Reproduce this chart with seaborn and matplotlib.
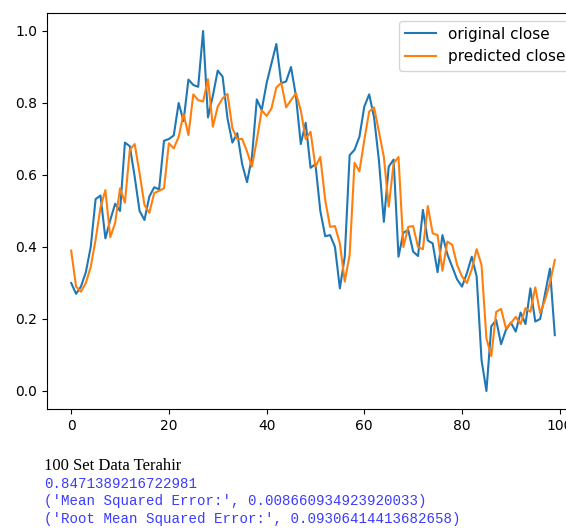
import numpy as np
import pandas as pd
import matplotlib
matplotlib.use("Agg")
import matplotlib.pyplot as plt
import seaborn as sns

original_close = [
    0.30, 0.27, 0.29, 0.33, 0.40, 0.533, 0.543, 0.424, 0.475, 0.52,
    0.50, 0.69, 0.68, 0.595, 0.50, 0.475, 0.54, 0.566, 0.56, 0.695,
    0.70, 0.71, 0.80, 0.75, 0.865, 0.85, 0.845, 1.00, 0.76, 0.82,
    0.89, 0.873, 0.757, 0.69, 0.716, 0.63, 0.58, 0.65, 0.81, 0.78,
    0.855, 0.91, 0.964, 0.855, 0.86, 0.90, 0.82, 0.686, 0.745, 0.62,
    0.63, 0.50, 0.43, 0.433, 0.40, 0.285, 0.373, 0.655, 0.67, 0.706,
    0.79, 0.824, 0.76, 0.64, 0.47, 0.623, 0.643, 0.373, 0.44, 0.447,
    0.387, 0.375, 0.503, 0.418, 0.41, 0.33, 0.433, 0.38, 0.345, 0.31,
    0.29, 0.327, 0.373, 0.318, 0.086, 0.0, 0.18, 0.197, 0.13, 0.17,
    0.19, 0.165, 0.218, 0.186, 0.285, 0.193, 0.20, 0.27, 0.34, 0.155,
]
predicted_close = [
    0.39, 0.29, 0.276, 0.30, 0.345, 0.42, 0.51, 0.558, 0.427, 0.467,
    0.563, 0.523, 0.67, 0.686, 0.605, 0.517, 0.495, 0.55, 0.556, 0.563,
    0.688, 0.674, 0.706, 0.77, 0.711, 0.824, 0.808, 0.804, 0.866, 0.734,
    0.79, 0.813, 0.825, 0.73, 0.70, 0.70, 0.665, 0.623, 0.697, 0.78,
    0.764, 0.785, 0.843, 0.856, 0.788, 0.808, 0.827, 0.78, 0.70, 0.72,
    0.623, 0.65, 0.53, 0.456, 0.458, 0.41, 0.304, 0.378, 0.634, 0.61,
    0.697, 0.776, 0.788, 0.72, 0.65, 0.512, 0.632, 0.65, 0.40, 0.456,
    0.458, 0.40, 0.394, 0.514, 0.438, 0.433, 0.334, 0.415, 0.406, 0.35,
    0.318, 0.30, 0.338, 0.394, 0.35, 0.146, 0.097, 0.22, 0.228, 0.174,
    0.188, 0.206, 0.186, 0.23, 0.22, 0.288, 0.216, 0.253, 0.30, 0.364,
]
series_labels = ["original close", "predicted close"]
caption_title = "100 Set Data Terahir"
output_lines = [
    "0.8471389216722981",
    "('Mean Squared Error:', 0.008660934923920033)",
    "('Root Mean Squared Error:', 0.09306414413682658)",
]

idx = np.arange(len(original_close))
df = pd.DataFrame({
    "index": np.concatenate([idx, idx]),
    "value": original_close + predicted_close,
    "series": [series_labels[0]] * len(idx) + [series_labels[1]] * len(idx),
})

fig = plt.figure(figsize=(5.66, 5.28), dpi=100)
ax = fig.add_axes([47 / 566, 1 - 409 / 528, 532 / 566, 396 / 528])
sns.lineplot(data=df, x="index", y="value", hue="series",
             palette=["#1f77b4", "#ff7f0e"], linewidth=1.5, ax=ax)
ax.set_xlabel("")
ax.set_ylabel("")
ax.set_xticks([0, 20, 40, 60, 80, 100])
ax.set_yticks([0.0, 0.2, 0.4, 0.6, 0.8, 1.0])
ax.tick_params(labelsize=10)
leg = ax.legend(loc="upper right", fontsize=11, frameon=True)
leg.set_title(None)

fig.text(44 / 566, 1 - 466 / 528, caption_title, family="Liberation Serif",
         fontsize=12, va="center", ha="left", color="black")
for k, line in enumerate(output_lines):
    fig.text(44 / 566, 1 - (484 + 17.5 * k) / 528, line, family="Liberation Mono",
             fontsize=10.2, va="center", ha="left", color="#3b3bff")

fig.savefig("out.png", dpi=100)
